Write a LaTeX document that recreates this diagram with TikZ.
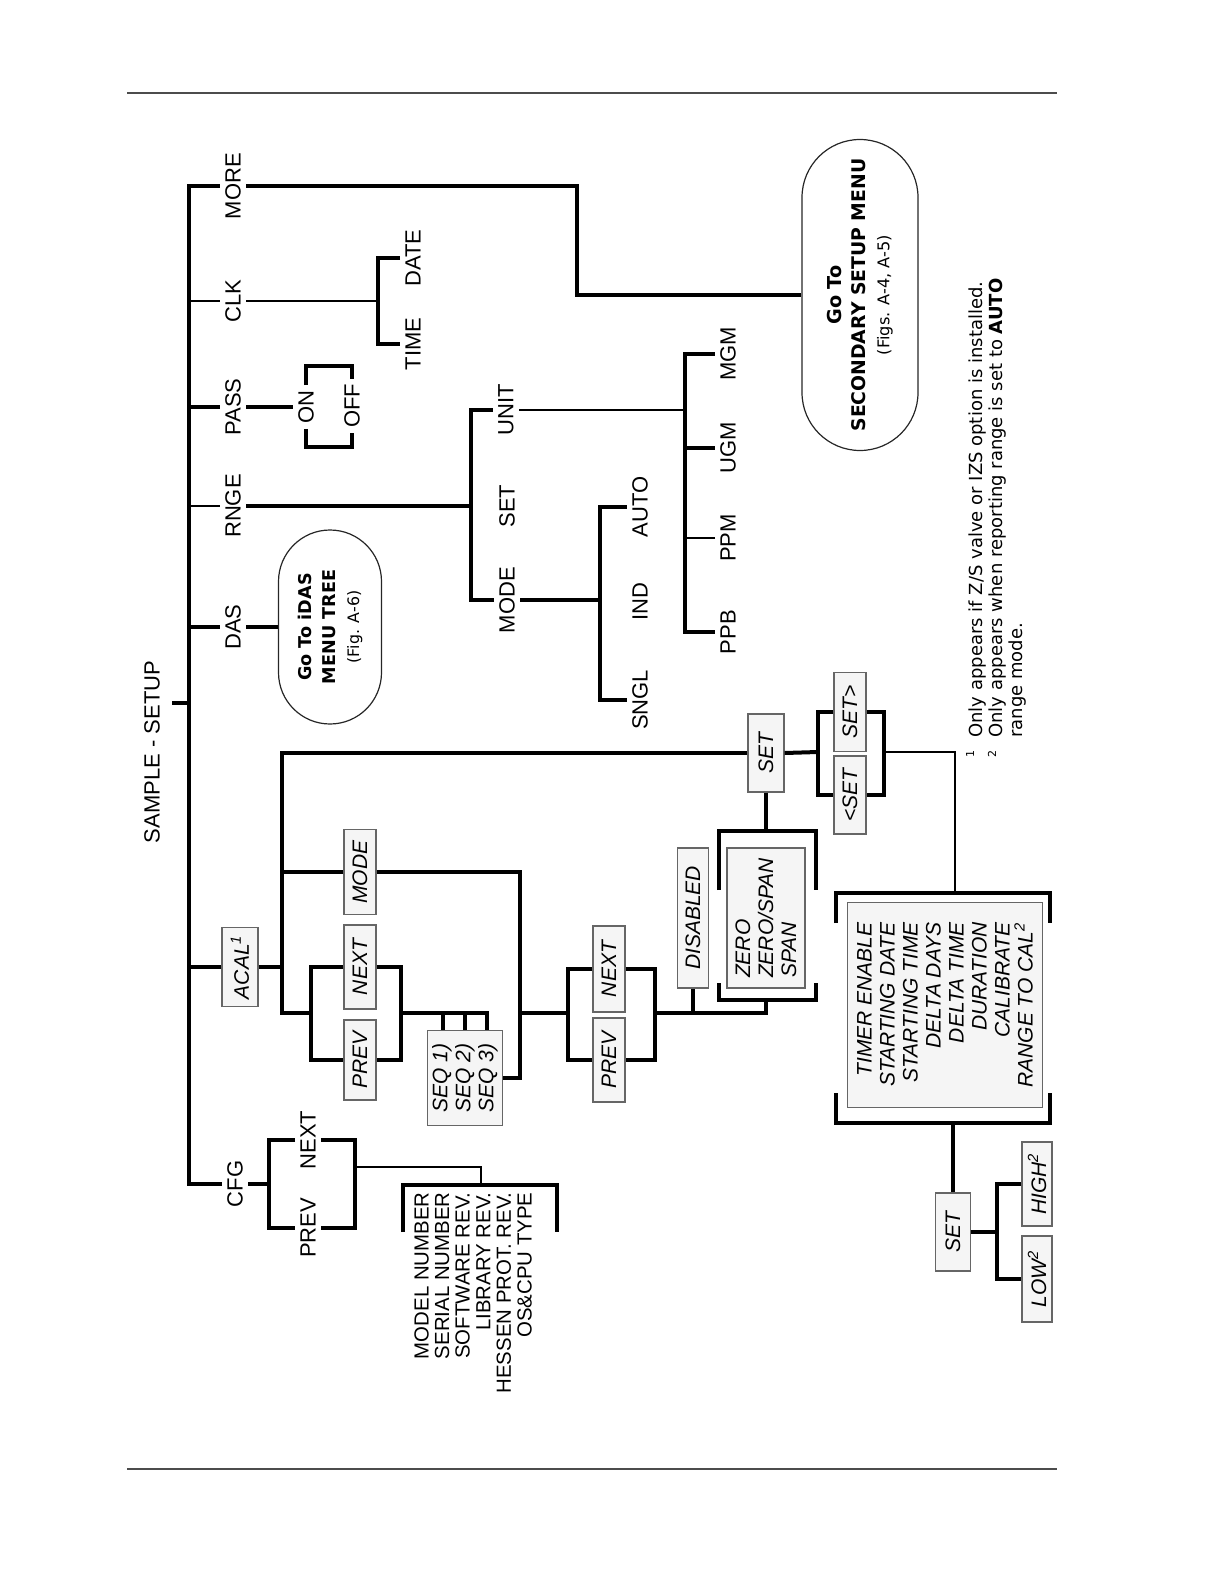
\documentclass[tikz,border=0pt]{standalone}
\usepackage{fontspec}
\setmainfont{Liberation Sans}
\newfontfamily\dvs{DejaVu Sans}
\usetikzlibrary{calc,shapes.misc}

\tikzset{
  lbl/.style={rotate=90, inner sep=2.5pt, font=\fontsize{11}{13}\selectfont},
  keybox/.style={rotate=90, draw=black!60, fill=black!4, line width=0.6pt, inner sep=2pt, minimum height=16pt, font=\fontsize{10.5}{11.5}\selectfont\itshape},
  gotobox/.style={rotate=90, rounded rectangle, draw=black!85, line width=0.6pt, align=center, inner sep=1pt},
  thk/.style={line width=2pt},
  thn/.style={line width=1pt},
}

\begin{document}
\begin{tikzpicture}[x=0.5pt, y=-0.5pt]
	\useasboundingbox (0, 0) rectangle (1224, 1584);
	\draw [line width=0.6pt, black!70](127, 93) -- (1057, 93);
	\draw [line width=0.6pt, black!70](127, 1469) -- (1057, 1469);

	\coordinate (sp) at (189, 0);
	\coordinate (sstick) at (172, 703);
	\node (title) at (152, 752)[lbl]  {SAMPLE - SETUP};

	\node (more) at (233, 186)[lbl]  {MORE};
	\node (clk) at (233, 301)[lbl]  {CLK};
	\node (pass) at (233, 407)[lbl]  {PASS};
	\node (rnge) at (233, 506)[lbl]  {RNGE};
	\node (das) at (233, 627)[lbl]  {DAS};
	\node (acal) at (240, 967)[keybox, minimum width=39.5pt, minimum height=18pt]  {ACAL\textsuperscript{1}};
	\node (cfg) at (235, 1184)[lbl]  {CFG};

	\draw [thk](more.north) -| (sp |- cfg) -- (cfg.north);
	\draw [thk](sstick) -- (sp |- sstick);

	% MORE
	\node (sec) at (860, 295)[gotobox, minimum width=157.5pt, minimum height=58pt]
		{\dvs\bfseries\fontsize{9.6}{10.5}\selectfont Go To\\
		 \dvs\bfseries\fontsize{9.4}{11}\selectfont SECONDARY SETUP MENU\\
		 \dvs\fontsize{8.1}{12.5}\selectfont (Figs. A-4, A-5)};
	\coordinate (mbend) at (577, 295);
	\draw [thk](more.south) -| (mbend) -- (sec.north);

	% CLK
	\node (date) at (413, 258)[lbl]  {DATE};
	\node (time) at (413, 344)[lbl]  {TIME};
	\coordinate (clkfork) at (378, 301);
	\draw [thn](clk.north) -- (sp |- clk);
	\draw [thn](clk.south) -- (clkfork);
	\draw [thk](date.north) -| (clkfork) |- (time.north);

	% PASS
	\node (on) at (306, 407)[lbl]  {ON};
	\node (off) at (352, 406)[lbl]  {OFF};
	\coordinate (ptop) at (330, 366);
	\coordinate (pbot) at (330, 447);
	\draw [thk](pass.north) -- (sp |- pass);
	\draw [thk](pass.south) -- (on.north);
	\draw [thk](on.east) |- (ptop) -| (off.east);
	\draw [thk](on.west) |- (pbot) -| (off.west);

	% RNGE
	\node (unit) at (506, 410)[lbl]  {UNIT};
	\node (rset) at (507, 506)[lbl]  {SET};
	\node (rmode) at (507, 600)[lbl]  {MODE};
	\coordinate (rfork) at (471, 506);
	\draw [thn](rnge.north) -- (sp |- rnge);
	\draw [thk](rnge.south) -- (rfork);
	\draw [thk](unit.north) -| (rfork) |- (rmode.north);

	\node (auto) at (640, 507)[lbl]  {AUTO};
	\node (ind) at (640, 602)[lbl]  {IND};
	\node (sngl) at (640, 700)[lbl]  {SNGL};
	\coordinate (mfork) at (600, 600);
	\draw [thk](rmode.south) -- (mfork);
	\draw [thk](auto.north) -| (mfork) |- (sngl.north);

	\node (mgm) at (728, 354)[lbl]  {MGM};
	\node (ugm) at (728, 448)[lbl]  {UGM};
	\node (ppm) at (728, 538)[lbl]  {PPM};
	\node (ppb) at (728, 632)[lbl]  {PPB};
	\coordinate (ufork) at (685, 410);
	\draw [thn](unit.south) -- (ufork);
	\draw [thk](mgm.north) -| (ufork) |- (ppb.north);
	\draw [thk](ugm.north) -- (ugm.north -| ufork);
	\draw [thn](ppm.north) -- (ppm.north -| ufork);

	% DAS
	\node (idas) at (330, 627)[gotobox, minimum width=99pt, minimum height=51.5pt]
		{\dvs\bfseries\fontsize{8.8}{10.5}\selectfont Go To iDAS\\
		 \dvs\bfseries\fontsize{8.8}{10.5}\selectfont MENU TREE\\
		 \dvs\fontsize{7.9}{12}\selectfont (Fig. A-6)};
	\draw [thk](das.north) -- (sp |- das);
	\draw [thk](das.south) -- (idas.north);

	% ACAL
	\node (amode) at (360, 872)[keybox, minimum width=42.5pt]  {MODE};
	\node (n1) at (360, 967)[keybox, minimum width=42pt]  {NEXT};
	\node (p1) at (360, 1060)[keybox, minimum width=40pt]  {PREV};
	\node (seq) at (465, 1078)[keybox, minimum width=47.5pt, minimum height=37.5pt, align=left]  {SEQ 1)\\SEQ 2)\\SEQ 3)};
	\node (n2) at (609, 969)[keybox, minimum width=43pt]  {NEXT};
	\node (p2) at (609, 1060)[keybox, minimum width=42pt]  {PREV};
	\node (dis) at (693, 918)[keybox, minimum width=70pt, minimum height=15.5pt]  {DISABLED};
	\node (zbox) at (766, 918)[keybox, minimum width=70pt, minimum height=39pt, align=left]  {ZERO\\ZERO/SPAN\\SPAN};
	\node (set1) at (766, 753)[keybox, minimum width=39pt, minimum height=18pt]  {SET};
	\node (sr) at (850, 712)[keybox, minimum width=39.5pt]  {SET>};
	\node (sl) at (850, 795)[keybox, minimum width=39pt]  {<SET};
	\node (tbox) at (945, 1005)[keybox, minimum width=102.5pt, minimum height=97.5pt, align=right]
		{TIMER ENABLE\\STARTING DATE\\STARTING TIME\\DELTA DAYS\\DELTA TIME\\DURATION\\CALIBRATE\\RANGE TO CAL\textsuperscript{2}};
	\node (set2) at (953, 1232)[keybox, minimum width=39pt, minimum height=17.5pt]  {SET};
	\node (high) at (1037, 1184)[keybox, minimum width=42pt, minimum height=15pt]  {HIGH\textsuperscript{2}};
	\node (low) at (1037, 1279)[keybox, minimum width=43pt, minimum height=15pt]  {LOW\textsuperscript{2}};

	\coordinate (abot) at (282, 1013);
	\coordinate (l1) at (311, 1013);
	\coordinate (r1) at (401, 1013);
	\coordinate (mx) at (520, 1013);
	\coordinate (l2) at (568, 1013);
	\coordinate (r2) at (655, 1013);
	\coordinate (zt) at (766, 831);
	\coordinate (zb) at (766, 1000);
	\coordinate (l3) at (818, 752);
	\coordinate (r3) at (884, 752);
	\coordinate (tt) at (955, 893);
	\coordinate (tb) at (953, 1123);
	\coordinate (hl) at (997, 1232);

	\draw [thk](acal.north) -- (sp |- acal);
	\draw [thk](set1.north) -| (abot) -- (l1);
	\draw [thk](acal.south) -- (acal.south -| abot);
	\draw [thk](amode.north) -- (amode.north -| abot);
	\draw [thk](amode.south) -| (mx) |- (seq.south);
	\draw [thk](n1.north) -| (l1) |- (p1.north);
	\draw [thk](n1.south) -| (r1) |- (p1.south);
	\foreach \dx in {-22, 0, 22}
		\draw [thk](r1) -| ($(seq.east)+(\dx, 0)$);
	\draw [thk](mx) -- (l2);
	\draw [thk](n2.north) -| (l2) |- (p2.north);
	\draw [thk](n2.south) -| (r2) |- (p2.south);
	\draw [thk](r2) -| (dis.west);
	\draw [thk](r2) -| (zb);
	\draw [thk]($(zt)+(-47, 59)$) |- ($(zt)+(50, 0)$) -- ++(0, 59);
	\draw [thk]($(zb)+(-47, -17)$) |- ($(zb)+(50, 0)$) -- ++(0, -17);
	\draw [thk](set1.west) -- (zt);
	\draw [thk](set1.south) -- (l3);
	\draw [thk](sr.north) -| (l3) |- (sl.north);
	\draw [thk](sr.south) -| (r3) |- (sl.south);
	\draw [thn](r3) -| (tt);
	\draw [thk]($(tt)+(-119, 30)$) |- ($(tt)+(95, 0)$) -- ++(0, 30);
	\draw [thk]($(tb)+(-117, -30)$) |- ($(tb)+(97, 0)$) -- ++(0, -30);
	\draw [thk](tb) -- (set2.east);
	\draw [thk](set2.south) -- (hl);
	\draw [thk](high.north) -| (hl) |- (low.north);

	% CFG
	\node (cn) at (308, 1140)[lbl]  {NEXT};
	\node (cp) at (308, 1228)[lbl]  {PREV};
	\node (info) at (473, 1192)[lbl, anchor=east, inner sep=0pt, align=right, font=\fontsize{10.2}{10.3}\selectfont]
		{MODEL NUMBER\\SERIAL NUMBER\\SOFTWARE REV.\\LIBRARY REV.\\HESSEN PROT. REV.\\OS\&CPU TYPE};
	\coordinate (cl) at (269, 1184);
	\coordinate (cro) at (355, 1167);
	\coordinate (ct) at (481, 1185);
	\draw [thk](cfg.south) -- (cl);
	\draw [thk](cn.north) -| (cl) |- (cp.north);
	\draw [thk](cn.south) -| (cro) |- (cp.south);
	\draw [thn](cro) -| (ct);
	\draw [thk]($(ct)+(-78, 47)$) |- ($(ct)+(76, 0)$) -- ++(0, 47);

	% notes
	\node (fn1) at (970, 754)[rotate=90, inner sep=0pt, font=\dvs\fontsize{5.5}{6}\selectfont]  {1};
	\node (fn2) at (992, 754)[rotate=90, inner sep=0pt, font=\dvs\fontsize{5.5}{6}\selectfont]  {2};
	\node (fnote) at (998, 738)[rotate=90, anchor=west, inner sep=0pt, align=left, font=\dvs\fontsize{9}{10}\selectfont]
		{Only appears if Z/S valve or IZS option is installed.\\
		 Only appears when reporting range is set to \textbf{AUTO}\\
		 range mode.};
\end{tikzpicture}
\end{document}
